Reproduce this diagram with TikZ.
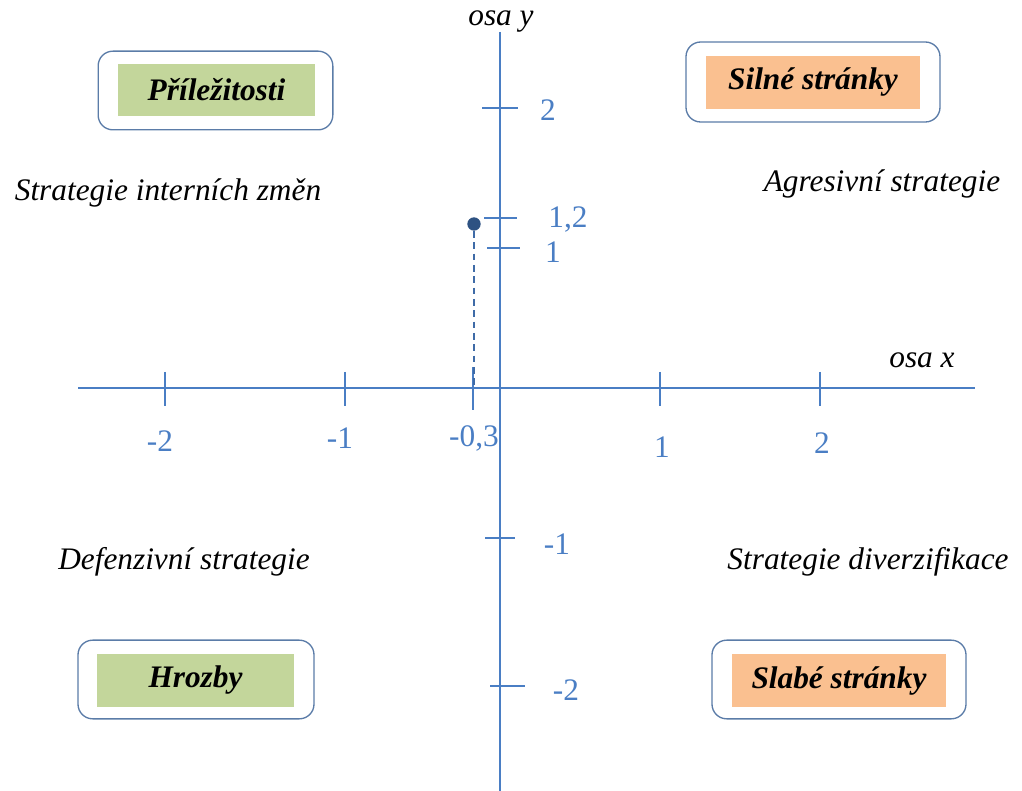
\documentclass[tikz,border=0pt]{standalone}
\usepackage{fontspec}
\setmainfont{Liberation Serif}
\usetikzlibrary{positioning}
\definecolor{axblue}{HTML}{4A7EC4}
\definecolor{boxline}{HTML}{5B7CA8}
\definecolor{oppgreen}{HTML}{C3D69B}
\definecolor{strorange}{HTML}{FAC090}
\definecolor{dotblue}{HTML}{2E5282}

\begin{document}
\begin{tikzpicture}[x=0.75pt, y=-0.75pt,
  axis/.style={axblue, line width=1.5pt},
  ticklbl/.style={text=axblue, font=\fontsize{23.5}{28}\selectfont},
  strat/.style={font=\fontsize{23.5}{28}\selectfont\itshape},
  frame/.style={draw=boxline, line width=1pt, rounded corners=11pt, fill=white},
  label green/.style={fill=oppgreen, font=\fontsize{23.5}{28}\selectfont\bfseries\itshape, minimum width=148pt, minimum height=39.5pt},
  label orange/.style={fill=strorange, font=\fontsize{23.5}{28}\selectfont\bfseries\itshape, minimum width=160.5pt, minimum height=40pt}]
  \useasboundingbox (0,0) rectangle (1022,791);

  % axes
  \coordinate (xl) at (78,388);
  \coordinate (xr) at (975,388);
  \coordinate (yt) at (500,32);
  \coordinate (yb) at (500,791);
  \draw[axis] (xl) -- (xr);
  \draw[axis] (yt) -- (yb);
  \node[strat] (osax) at (922,360) {osa x};
  \node[strat] (osay) at (501,22) {osa y};

  % x ticks
  \foreach \xx/\lx/\ly/\txt in {165/160/441/-2, 345/340/438/-1, 660/662/447/1, 820/822/443/2}
    \draw[axis] (\xx,372) -- (\xx,406) node[ticklbl] at (\lx,\ly) {\txt};
  \draw[axis] (473,367) -- (473,410);
  \node[ticklbl] (xm03) at (474,438) {-0,3};

  % y ticks
  \foreach \yy/\ya/\yb/\lx/\ly/\txt in {108/482/518/548/110/2, 248/487/520/553/252/1, 538/485/515/557/544/-1, 686/490/525/566/690/-2}
    \draw[axis] (\ya,\yy) -- (\yb,\yy) node[ticklbl] at (\lx,\ly) {\txt};
  \draw[axis] (484,218) -- (517,218);
  \node[ticklbl] (y12) at (568,220) {1,2};

  % position point
  \node[circle, fill=dotblue, inner sep=0pt, minimum size=10pt] (pt) at (474,224) {};
  \coordinate (ptx) at (474,388);
  \draw[axblue!85!black, line width=1.2pt, dash pattern=on 5pt off 3.5pt] (pt) -- (ptx);

  % quadrant boxes
  \node[frame, minimum width=176pt, minimum height=59pt] (oppframe) at (215.5,90.5) {};
  \node[label green] (opp) at (216.5,90) {Příležitosti};
  \node[frame, minimum width=190.5pt, minimum height=60pt] (strframe) at (813,82) {};
  \node[label orange] (str) at (813,82.5) {Silné stránky};
  \node[frame, minimum width=177pt, minimum height=59pt] (thrframe) at (196,679.5) {};
  \node[label green] (thr) at (195.5,680.5) {Hrozby};
  \node[frame, minimum width=190.5pt, minimum height=59pt] (weakframe) at (839,679.5) {};
  \node[label orange] (weak) at (839,680.5) {Slabé stránky};

  % strategies
  \node[strat] (wo) at (168,193) {Strategie interních změn};
  \node[strat] (so) at (882,184) {Agresivní strategie};
  \node[strat] (wt) at (184,562) {Defenzivní strategie};
  \node[strat] (st) at (868,562) {Strategie diverzifikace};
\end{tikzpicture}
\end{document}
